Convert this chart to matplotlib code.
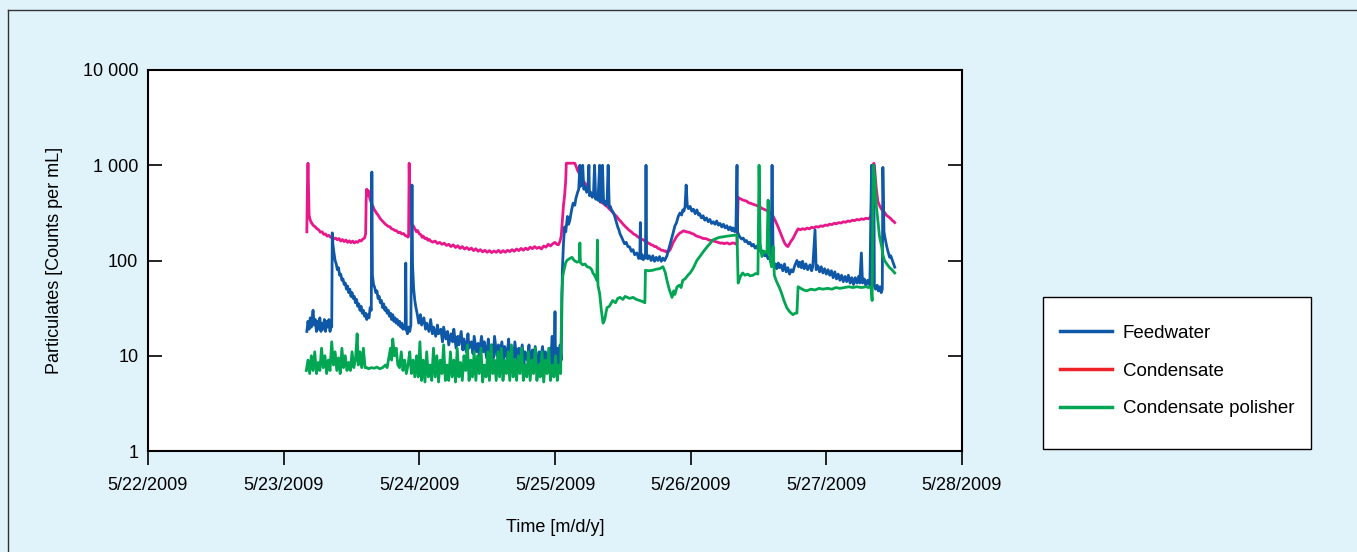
import matplotlib
matplotlib.use("Agg")
import matplotlib.pyplot as plt
from matplotlib.lines import Line2D
from matplotlib.patches import Rectangle
from matplotlib.ticker import NullLocator

plt.rcParams['font.family'] = 'Liberation Sans'

# time in hours since 5/22/2009 00:00, values in counts per mL
x_ticks = [0, 24, 48, 72, 96, 120, 144]
x_labels = ['5/22/2009', '5/23/2009', '5/24/2009', '5/25/2009', '5/26/2009', '5/27/2009', '5/28/2009']
y_ticks = [1, 10, 100, 1000, 10000]
y_labels = ['1', '10', '100', '1 000', '10 000']
series_names = ['Feedwater', 'Condensate', 'Condensate polisher']

# Feedwater (blue), (hour, value)
feed_pts = [
    (28.1, 18), (28.3, 23), (28.5, 19), (28.7, 25), (28.9, 20), (29.1, 27), (29.2, 30), (29.4, 21),
    (29.6, 24), (29.8, 18), (30.0, 23), (30.2, 19), (30.4, 25), (30.6, 18), (30.8, 22), (31.0, 19),
    (31.2, 24), (31.4, 18), (31.6, 23), (31.8, 20), (32.0, 24), (32.2, 18), (32.4, 22), (32.5, 20),
    (32.6, 195), (32.7, 150), (32.9, 120), (33.1, 100), (33.3, 92), (33.5, 80), (33.7, 84), (33.9, 70),
    (34.1, 72), (34.3, 62), (34.5, 64), (34.7, 56), (34.9, 58), (35.1, 50), (35.3, 54), (35.5, 46),
    (35.7, 50), (35.9, 42), (36.1, 46), (36.3, 40), (36.5, 42), (36.7, 36), (36.9, 39), (37.1, 33),
    (37.3, 35), (37.5, 30), (37.7, 33), (37.9, 28), (38.1, 30), (38.3, 26), (38.5, 28), (38.7, 24),
    (38.9, 27), (39.1, 25), (39.3, 32), (39.5, 30), (39.6, 850), (39.7, 70), (39.9, 56), (40.1, 52),
    (40.3, 46), (40.5, 48), (40.7, 40), (40.9, 42), (41.1, 36), (41.3, 38), (41.5, 32), (41.7, 35),
    (41.9, 30), (42.1, 32), (42.3, 28), (42.5, 30), (42.7, 26), (42.9, 28), (43.1, 24), (43.3, 27),
    (43.5, 23), (43.7, 25), (43.9, 22), (44.1, 24), (44.3, 21), (44.5, 23), (44.7, 20), (44.9, 22),
    (45.1, 19), (45.3, 21), (45.5, 19), (45.6, 94), (45.7, 19), (45.9, 17), (46.1, 20), (46.3, 18),
    (46.5, 21), (46.7, 620), (46.8, 90), (47.0, 50), (47.2, 38), (47.4, 32), (47.6, 28), (47.9, 22),
    (48.2, 27), (48.4, 21), (48.8, 25), (49.1, 19), (49.3, 22), (49.7, 18), (50.0, 24), (50.3, 17),
    (50.5, 20), (50.9, 16), (51.2, 21), (51.4, 17), (51.8, 19), (52.1, 14), (52.3, 20), (52.7, 15),
    (53.0, 18), (53.2, 13), (53.6, 17), (53.9, 14), (54.1, 19), (54.5, 12), (54.8, 16), (55.0, 13),
    (55.4, 18), (55.7, 11.5), (55.9, 15), (56.3, 11), (56.6, 17), (56.8, 12), (57.2, 14), (57.5, 10.5),
    (57.7, 16), (58.1, 11), (58.4, 13.5), (58.6, 10), (59.0, 16), (59.3, 11), (59.5, 14), (59.9, 9.5),
    (60.2, 15), (60.4, 11), (60.8, 13), (61.1, 9.5), (61.3, 16), (61.7, 10), (62.0, 13), (62.2, 9.5),
    (62.6, 14), (62.9, 9), (63.1, 12.5), (63.5, 9.5), (63.8, 15), (64.0, 9), (64.4, 12), (64.7, 9.5),
    (64.9, 14), (65.3, 8.5), (65.6, 12), (65.8, 9), (66.2, 13), (66.5, 8), (66.7, 11), (67.1, 9),
    (67.4, 13), (67.6, 8), (68.0, 11.5), (68.3, 8.5), (68.5, 12.5), (68.9, 7.5), (69.2, 11), (69.4, 8.5),
    (69.8, 12.5), (70.1, 7.5), (70.3, 11), (70.7, 8), (71.0, 12), (71.2, 8), (71.5, 16), (71.7, 7.5),
    (71.9, 12), (72.0, 29), (72.1, 8), (72.4, 12), (72.7, 7.5), (72.9, 13), (73.1, 9), (73.3, 80),
    (73.5, 150), (73.7, 225), (73.9, 200), (74.2, 290), (74.4, 240), (74.6, 260), (74.9, 330), (75.2, 400),
    (75.5, 380), (75.7, 450), (76.0, 520), (76.2, 560), (76.4, 1000), (76.5, 600), (76.7, 680), (76.8, 620),
    (76.9, 1000), (77.1, 560), (77.3, 600), (77.6, 520), (77.8, 560), (78.0, 1000), (78.1, 480), (78.3, 520),
    (78.6, 460), (78.8, 490), (79.0, 1000), (79.2, 440), (79.4, 470), (79.6, 430), (79.9, 1000), (80.0, 410),
    (80.2, 440), (80.4, 1000), (80.6, 400), (80.8, 420), (81.0, 380), (81.2, 400), (81.4, 1000), (81.6, 360),
    (81.8, 370), (82.0, 340), (82.3, 320), (82.5, 300), (82.8, 260), (83.1, 225), (83.3, 210), (83.5, 190),
    (83.8, 175), (84.0, 164), (84.3, 150), (84.6, 155), (84.9, 140), (85.2, 139), (85.5, 125), (85.8, 130),
    (86.1, 115), (86.5, 120), (86.8, 105), (87.0, 108), (87.1, 250), (87.2, 105), (87.4, 115), (87.6, 102),
    (87.8, 112), (88.0, 106), (88.1, 1000), (88.2, 120), (88.4, 104), (88.7, 112), (89.0, 100), (89.3, 112),
    (89.6, 98), (89.9, 108), (90.2, 100), (90.5, 110), (90.8, 98), (91.1, 106), (91.4, 100), (91.8, 112),
    (92.1, 130), (92.4, 150), (92.7, 175), (92.9, 195), (93.2, 230), (93.5, 250), (93.8, 290), (94.1, 315),
    (94.4, 300), (94.6, 340), (94.8, 330), (95.0, 365), (95.2, 620), (95.4, 380), (95.6, 350), (95.9, 370),
    (96.2, 330), (96.5, 345), (96.8, 310), (97.1, 340), (97.4, 300), (97.6, 310), (97.9, 280), (98.2, 295),
    (98.5, 265), (98.8, 280), (99.1, 255), (99.4, 270), (99.7, 245), (100.0, 255), (100.3, 240), (100.6, 260),
    (100.9, 235), (101.2, 245), (101.5, 225), (101.8, 240), (102.1, 220), (102.4, 232), (102.7, 210), (103.0, 225),
    (103.3, 205), (103.5, 220), (103.8, 200), (104.0, 215), (104.2, 1000), (104.3, 200), (104.5, 185), (104.7, 177),
    (105.0, 168), (105.3, 172), (105.6, 158), (105.9, 162), (106.2, 150), (106.5, 155), (106.8, 142), (107.1, 148),
    (107.4, 135), (107.7, 142), (108.0, 128), (108.2, 134), (108.5, 120), (108.8, 126), (109.1, 112), (109.4, 116),
    (109.7, 104), (110.0, 108), (110.2, 96), (110.4, 1000), (110.6, 95), (110.8, 88), (111.0, 92), (111.2, 82),
    (111.5, 94), (111.7, 84), (112.0, 90), (112.3, 78), (112.6, 92), (112.9, 76), (113.2, 84), (113.5, 72),
    (113.8, 80), (114.1, 76), (114.4, 88), (114.8, 100), (115.1, 86), (115.3, 96), (115.6, 84), (115.8, 98),
    (116.1, 82), (116.4, 92), (116.7, 80), (117.1, 90), (117.4, 78), (117.6, 86), (118.0, 209), (118.2, 80),
    (118.5, 88), (118.8, 76), (119.1, 86), (119.4, 74), (119.7, 82), (120.0, 72), (120.3, 80), (120.6, 70),
    (120.9, 78), (121.2, 66), (121.5, 76), (121.8, 64), (122.1, 72), (122.4, 62), (122.7, 70), (123.0, 60),
    (123.3, 68), (123.6, 60), (123.9, 70), (124.2, 58), (124.5, 66), (124.8, 56), (125.1, 66), (125.4, 58),
    (125.7, 68), (125.9, 58), (126.2, 120), (126.4, 58), (126.7, 64), (127.0, 54), (127.3, 62), (127.7, 55),
    (128.0, 1000), (128.1, 55), (128.2, 60), (128.4, 1000), (128.5, 54), (128.7, 50), (129.0, 55), (129.2, 48),
    (129.5, 53), (129.7, 46), (129.9, 50), (130.0, 950), (130.2, 200), (130.4, 170), (130.7, 139), (130.9, 125),
    (131.2, 108), (131.4, 112), (131.7, 100), (131.9, 92), (132.1, 85),
]

# Condensate (pink)
cond_pts = [
    (28.1, 200), (28.2, 600), (28.3, 1050), (28.5, 300), (28.7, 265), (28.9, 250), (29.1, 240), (29.3, 232),
    (29.6, 225), (29.9, 215), (30.2, 210), (30.5, 198), (30.8, 200), (31.1, 188), (31.4, 190), (31.7, 180),
    (32.0, 184), (32.3, 175), (32.6, 178), (32.9, 168), (33.2, 172), (33.5, 165), (33.8, 170), (34.1, 160),
    (34.4, 166), (34.7, 158), (35.0, 164), (35.3, 155), (35.6, 161), (35.9, 154), (36.2, 160), (36.5, 153),
    (36.8, 158), (37.1, 155), (37.4, 163), (37.7, 160), (38.0, 168), (38.3, 172), (38.5, 190), (38.6, 450),
    (38.7, 560), (38.8, 480), (38.9, 500), (39.0, 540), (39.2, 460), (39.4, 420), (39.6, 390), (39.8, 370),
    (40.0, 345), (40.2, 330), (40.5, 310), (40.7, 300), (41.0, 280), (41.2, 270), (41.5, 258), (41.7, 250),
    (42.0, 240), (42.2, 236), (42.5, 228), (42.8, 226), (43.1, 215), (43.4, 212), (43.7, 206), (44.0, 205),
    (44.3, 196), (44.6, 198), (44.9, 190), (45.2, 192), (45.5, 183), (45.8, 180), (46.0, 176), (46.1, 180),
    (46.2, 1050), (46.3, 500), (46.4, 280), (46.6, 245), (46.8, 235), (47.0, 228), (47.2, 215), (47.5, 200),
    (47.7, 206), (48.0, 190), (48.3, 186), (48.5, 175), (48.7, 180), (49.0, 170), (49.3, 172), (49.5, 163),
    (49.8, 166), (50.0, 160), (50.4, 156), (50.8, 160), (51.2, 151), (51.6, 155), (52.0, 148), (52.4, 152),
    (52.8, 144), (53.2, 148), (53.6, 140), (54.0, 146), (54.4, 137), (54.8, 143), (55.2, 134), (55.6, 140),
    (56.0, 132), (56.4, 137), (56.8, 130), (57.2, 135), (57.6, 127), (58.0, 133), (58.4, 125), (58.8, 130),
    (59.2, 123), (59.6, 128), (60.0, 122), (60.4, 127), (60.8, 121), (61.2, 126), (61.6, 122), (62.0, 128),
    (62.4, 121), (62.8, 127), (63.2, 122), (63.6, 128), (64.0, 124), (64.4, 130), (64.8, 125), (65.2, 132),
    (65.6, 127), (66.0, 134), (66.4, 128), (66.8, 135), (67.2, 130), (67.6, 138), (68.0, 133), (68.4, 140),
    (68.8, 134), (69.2, 138), (69.6, 132), (70.0, 142), (70.4, 138), (70.8, 148), (71.2, 142), (71.6, 150),
    (72.0, 155), (72.3, 148), (72.6, 146), (72.9, 160), (73.1, 180), (73.3, 260), (73.5, 380), (73.7, 480),
    (73.9, 700), (74.0, 1050), (75.5, 1050), (75.8, 950), (76.0, 880), (76.3, 820), (76.5, 780), (76.8, 720),
    (77.0, 680), (77.3, 650), (77.5, 620), (77.8, 570), (78.2, 520), (78.6, 500), (79.0, 470), (79.4, 455),
    (79.7, 430), (80.0, 420), (80.3, 405), (80.6, 395), (80.9, 380), (81.2, 370), (81.6, 350), (82.0, 330),
    (82.4, 310), (82.9, 290), (83.3, 270), (83.8, 250), (84.2, 235), (84.7, 220), (85.1, 208), (85.5, 200),
    (85.9, 190), (86.3, 185), (86.7, 176), (87.0, 172), (87.3, 168), (87.6, 165), (87.9, 160), (88.2, 158),
    (88.5, 152), (88.8, 150), (89.0, 146), (89.3, 145), (89.6, 140), (89.9, 140), (90.2, 134), (90.5, 133),
    (90.8, 128), (91.1, 128), (91.4, 125), (91.6, 126), (91.8, 122), (92.0, 124), (92.3, 128), (92.5, 135),
    (92.7, 145), (92.9, 155), (93.2, 165), (93.5, 178), (93.8, 186), (94.1, 195), (94.4, 198), (94.7, 205),
    (95.0, 202), (95.3, 200), (95.6, 198), (95.9, 196), (96.2, 192), (96.5, 190), (96.8, 184), (97.1, 180),
    (97.4, 178), (97.7, 176), (98.0, 172), (98.3, 170), (98.6, 170), (98.9, 168), (99.2, 164), (99.5, 163),
    (99.8, 161), (100.1, 160), (100.4, 158), (100.7, 156), (101.0, 154), (101.3, 152), (101.6, 153), (101.9, 150),
    (102.2, 152), (102.5, 153), (102.8, 149), (103.1, 150), (103.4, 153), (103.7, 152), (104.0, 149), (104.2, 148),
    (104.4, 460), (104.6, 450), (104.8, 445), (105.1, 435), (105.3, 430), (105.6, 425), (105.9, 420), (106.2, 405),
    (106.5, 400), (106.8, 395), (107.0, 390), (107.3, 385), (107.6, 380), (107.9, 372), (108.2, 370), (108.5, 355),
    (108.7, 350), (109.0, 345), (109.2, 340), (109.5, 335), (109.7, 330), (110.0, 318), (110.2, 310), (110.4, 300),
    (110.6, 290), (111.0, 260), (111.4, 230), (111.8, 200), (112.2, 175), (112.5, 158), (112.7, 150), (113.0, 142),
    (113.2, 140), (113.5, 150), (113.7, 158), (114.1, 170), (114.4, 185), (114.6, 195), (114.8, 205), (115.0, 215),
    (115.4, 210), (115.8, 216), (116.2, 212), (116.6, 219), (117.0, 215), (117.4, 223), (117.8, 220), (118.2, 227),
    (118.6, 224), (119.0, 231), (119.4, 228), (119.8, 236), (120.2, 233), (120.6, 241), (121.0, 238), (121.4, 246),
    (121.8, 243), (122.2, 250), (122.6, 247), (123.0, 255), (123.4, 252), (123.8, 260), (124.2, 257), (124.6, 265),
    (125.0, 262), (125.4, 270), (125.8, 266), (126.2, 274), (126.6, 270), (127.0, 278), (127.4, 274), (127.7, 282),
    (127.9, 300), (128.1, 600), (128.2, 900), (128.4, 1050), (128.5, 1000), (128.7, 700), (128.8, 600), (129.0, 480),
    (129.1, 420), (129.3, 390), (129.5, 370), (129.7, 350), (130.0, 330), (130.3, 320), (130.6, 300), (130.9, 290),
    (131.2, 280), (131.4, 275), (131.7, 262), (131.9, 258), (132.1, 250),
]

# Condensate polisher (green)
pol_pts = [
    (28.0, 7), (28.3, 9), (28.6, 6.5), (28.9, 10), (29.2, 7), (29.5, 11), (29.8, 6.5), (30.1, 8.5),
    (30.4, 7), (30.7, 12), (31.0, 7.5), (31.3, 10), (31.6, 6.5), (31.9, 9), (32.2, 7), (32.5, 14),
    (32.8, 8), (33.1, 11), (33.4, 7), (33.7, 9.5), (34.0, 6.5), (34.3, 12), (34.6, 7.5), (34.9, 10),
    (35.2, 7), (35.5, 8.5), (35.8, 7), (36.1, 11), (36.4, 7.5), (36.7, 9), (37.0, 17), (37.2, 8),
    (37.5, 11), (37.8, 7.5), (38.1, 12), (38.4, 7.5), (38.7, 7.5), (39.0, 7.3), (39.5, 7.5), (40.0, 7.4),
    (40.5, 7.6), (41.0, 7.3), (41.5, 7.5), (42.0, 8), (42.3, 7.5), (42.6, 9.5), (42.9, 12), (43.1, 9),
    (43.3, 15), (43.6, 10), (43.9, 12), (44.2, 8), (44.5, 7.5), (44.8, 11), (45.1, 7), (45.4, 9),
    (45.7, 6.5), (46.0, 8), (46.3, 11), (46.6, 6.5), (46.9, 9), (47.2, 6), (47.5, 10), (47.8, 6),
    (48.1, 14), (48.4, 5.5), (48.7, 9), (49.0, 5.3), (49.3, 11), (49.6, 6), (49.9, 8), (50.2, 5.5),
    (50.5, 12), (50.8, 6), (51.1, 10), (51.4, 5.3), (51.7, 9), (52.0, 6.5), (52.3, 13), (52.6, 5.5),
    (52.9, 8), (53.2, 5.5), (53.5, 11), (53.8, 6), (54.1, 9), (54.4, 5.3), (54.7, 12), (55.0, 6),
    (55.3, 8.5), (55.6, 5.5), (55.9, 10), (56.2, 7), (56.5, 13), (56.8, 5.5), (57.1, 9), (57.4, 6),
    (57.7, 11), (58.0, 5.5), (58.3, 10), (58.6, 6.5), (58.9, 12), (59.2, 5.3), (59.5, 8), (59.8, 6),
    (60.1, 11), (60.4, 5.5), (60.7, 13), (61.0, 6.5), (61.3, 9), (61.6, 5.5), (61.9, 11), (62.2, 6),
    (62.5, 12), (62.8, 5.5), (63.1, 9), (63.4, 6.5), (63.7, 11), (64.0, 5.5), (64.3, 13), (64.6, 6),
    (64.9, 9), (65.2, 5.5), (65.5, 10), (65.8, 6.5), (66.1, 12), (66.4, 5.5), (66.7, 8), (67.0, 6),
    (67.3, 11), (67.6, 5.5), (67.9, 9), (68.2, 6.5), (68.5, 12), (68.8, 5.5), (69.1, 8), (69.4, 6),
    (69.7, 11), (70.0, 5.3), (70.3, 9), (70.6, 6.5), (70.9, 12), (71.2, 5.5), (71.5, 8), (71.8, 6),
    (72.1, 10), (72.4, 5.5), (72.7, 8), (73.0, 6.5), (73.2, 45), (73.4, 70), (73.6, 80), (73.9, 95),
    (74.1, 100), (74.5, 104), (75.0, 108), (75.4, 100), (75.9, 96), (76.3, 98), (76.4, 153), (76.5, 95),
    (76.9, 90), (77.3, 92), (77.7, 86), (78.2, 84), (78.5, 80), (78.7, 74), (79.0, 70), (79.4, 62),
    (79.5, 164), (79.6, 55), (79.9, 45), (80.2, 30), (80.5, 22), (80.8, 24), (81.0, 28), (81.2, 32),
    (81.6, 33), (82.2, 38), (82.7, 36), (83.1, 40), (83.5, 41), (84.0, 39), (84.4, 42), (85.2, 40),
    (85.8, 41), (86.4, 39), (87.0, 38), (87.5, 37), (87.9, 36), (88.0, 79), (88.6, 78), (89.3, 79),
    (89.9, 81), (90.5, 82), (91.1, 86), (91.5, 75), (91.8, 62), (92.2, 50), (92.7, 41), (93.0, 48),
    (93.2, 44), (93.6, 53), (94.0, 55), (94.3, 52), (94.6, 62), (95.0, 64), (95.5, 70), (95.9, 74),
    (96.4, 82), (97.1, 100), (97.7, 112), (98.3, 125), (98.9, 139), (99.4, 150), (99.9, 164), (100.5, 170),
    (101.1, 175), (101.7, 177), (102.4, 180), (103.0, 182), (103.6, 184), (104.2, 185), (104.4, 58), (104.8, 68),
    (105.2, 74), (105.6, 70), (106.1, 72), (106.5, 69), (107.0, 70), (107.5, 73), (107.9, 72), (108.1, 1000),
    (108.3, 150), (108.6, 110), (109.0, 125), (109.5, 120), (109.7, 430), (109.9, 120), (110.3, 86), (110.6, 140),
    (110.8, 70), (111.2, 60), (111.7, 52), (112.1, 45), (112.5, 38), (113.0, 32), (113.5, 29), (114.1, 27),
    (114.5, 28), (114.8, 28), (115.0, 53), (115.5, 51), (116.0, 49), (116.5, 48), (117.3, 50), (118.0, 49),
    (118.7, 51), (119.4, 50), (120.2, 51), (121.0, 50), (121.7, 52), (122.4, 51), (123.2, 52), (124.0, 53),
    (124.7, 52), (125.4, 53), (126.2, 52), (127.0, 53), (127.5, 52), (127.9, 53), (128.1, 38), (128.3, 1000),
    (128.6, 700), (128.8, 400), (129.1, 266), (129.4, 180), (129.8, 139), (130.0, 115), (130.3, 100), (130.7, 92),
    (131.2, 84), (131.6, 80), (132.1, 74),
]

bg = '#e1f3fa'
blue = '#0f58a8'
pink = '#e8178a'
green = '#00a651'
red = '#ee2229'

fig = plt.figure(figsize=(13.57, 5.52), dpi=100, facecolor=bg)

# thin frame round the panel (left and top edges only)
fig.add_artist(Line2D([8 / 1357, 8 / 1357], [0, 1 - 10 / 552], transform=fig.transFigure, color='#333333', lw=1))
fig.add_artist(Line2D([8 / 1357, 1], [1 - 10 / 552, 1 - 10 / 552], transform=fig.transFigure, color='#333333', lw=1))

ax = fig.add_axes([148 / 1357, 101 / 552, 814 / 1357, 381 / 552])
ax.set_facecolor('white')

for pts, c in ((cond_pts, pink), (feed_pts, blue), (pol_pts, green)):
    t, v = zip(*pts)
    ax.plot(t, v, color=c, lw=2.0)

ax.set_yscale('log')
ax.set_ylim(1, 10000)
ax.set_xlim(0, 144)
ax.set_yticks(y_ticks)
ax.set_yticklabels(y_labels)
ax.yaxis.set_minor_locator(NullLocator())
ax.set_xticks(x_ticks)
ax.set_xticklabels(x_labels)

ax.tick_params(axis='y', direction='in', length=10, width=1.2, right=True, labelsize=13, pad=7)
ax.tick_params(axis='x', direction='out', length=10, width=1.2, labelsize=13, pad=9)
for s in ax.spines.values():
    s.set_linewidth(1.5)

ax.set_xlabel('Time [m/d/y]', fontsize=13, labelpad=18)
ax.set_ylabel('Particulates [Counts per mL]', fontsize=13, labelpad=14)

# legend box
fig.add_artist(Rectangle((1043 / 1357, 1 - 449 / 552), 268 / 1357, 152 / 552, transform=fig.transFigure,
                         facecolor='white', edgecolor='black', lw=1, zorder=1))
handles = [Line2D([], [], color=c, lw=2.5) for c in (blue, red, green)]
fig.legend(handles, series_names, loc='center', bbox_to_anchor=(1177 / 1357, 1 - 371 / 552),
           frameon=False, fontsize=13.5, handlelength=2.8, handletextpad=0.55, labelspacing=1.1)

fig.savefig('out.png', dpi=100, facecolor=bg)
